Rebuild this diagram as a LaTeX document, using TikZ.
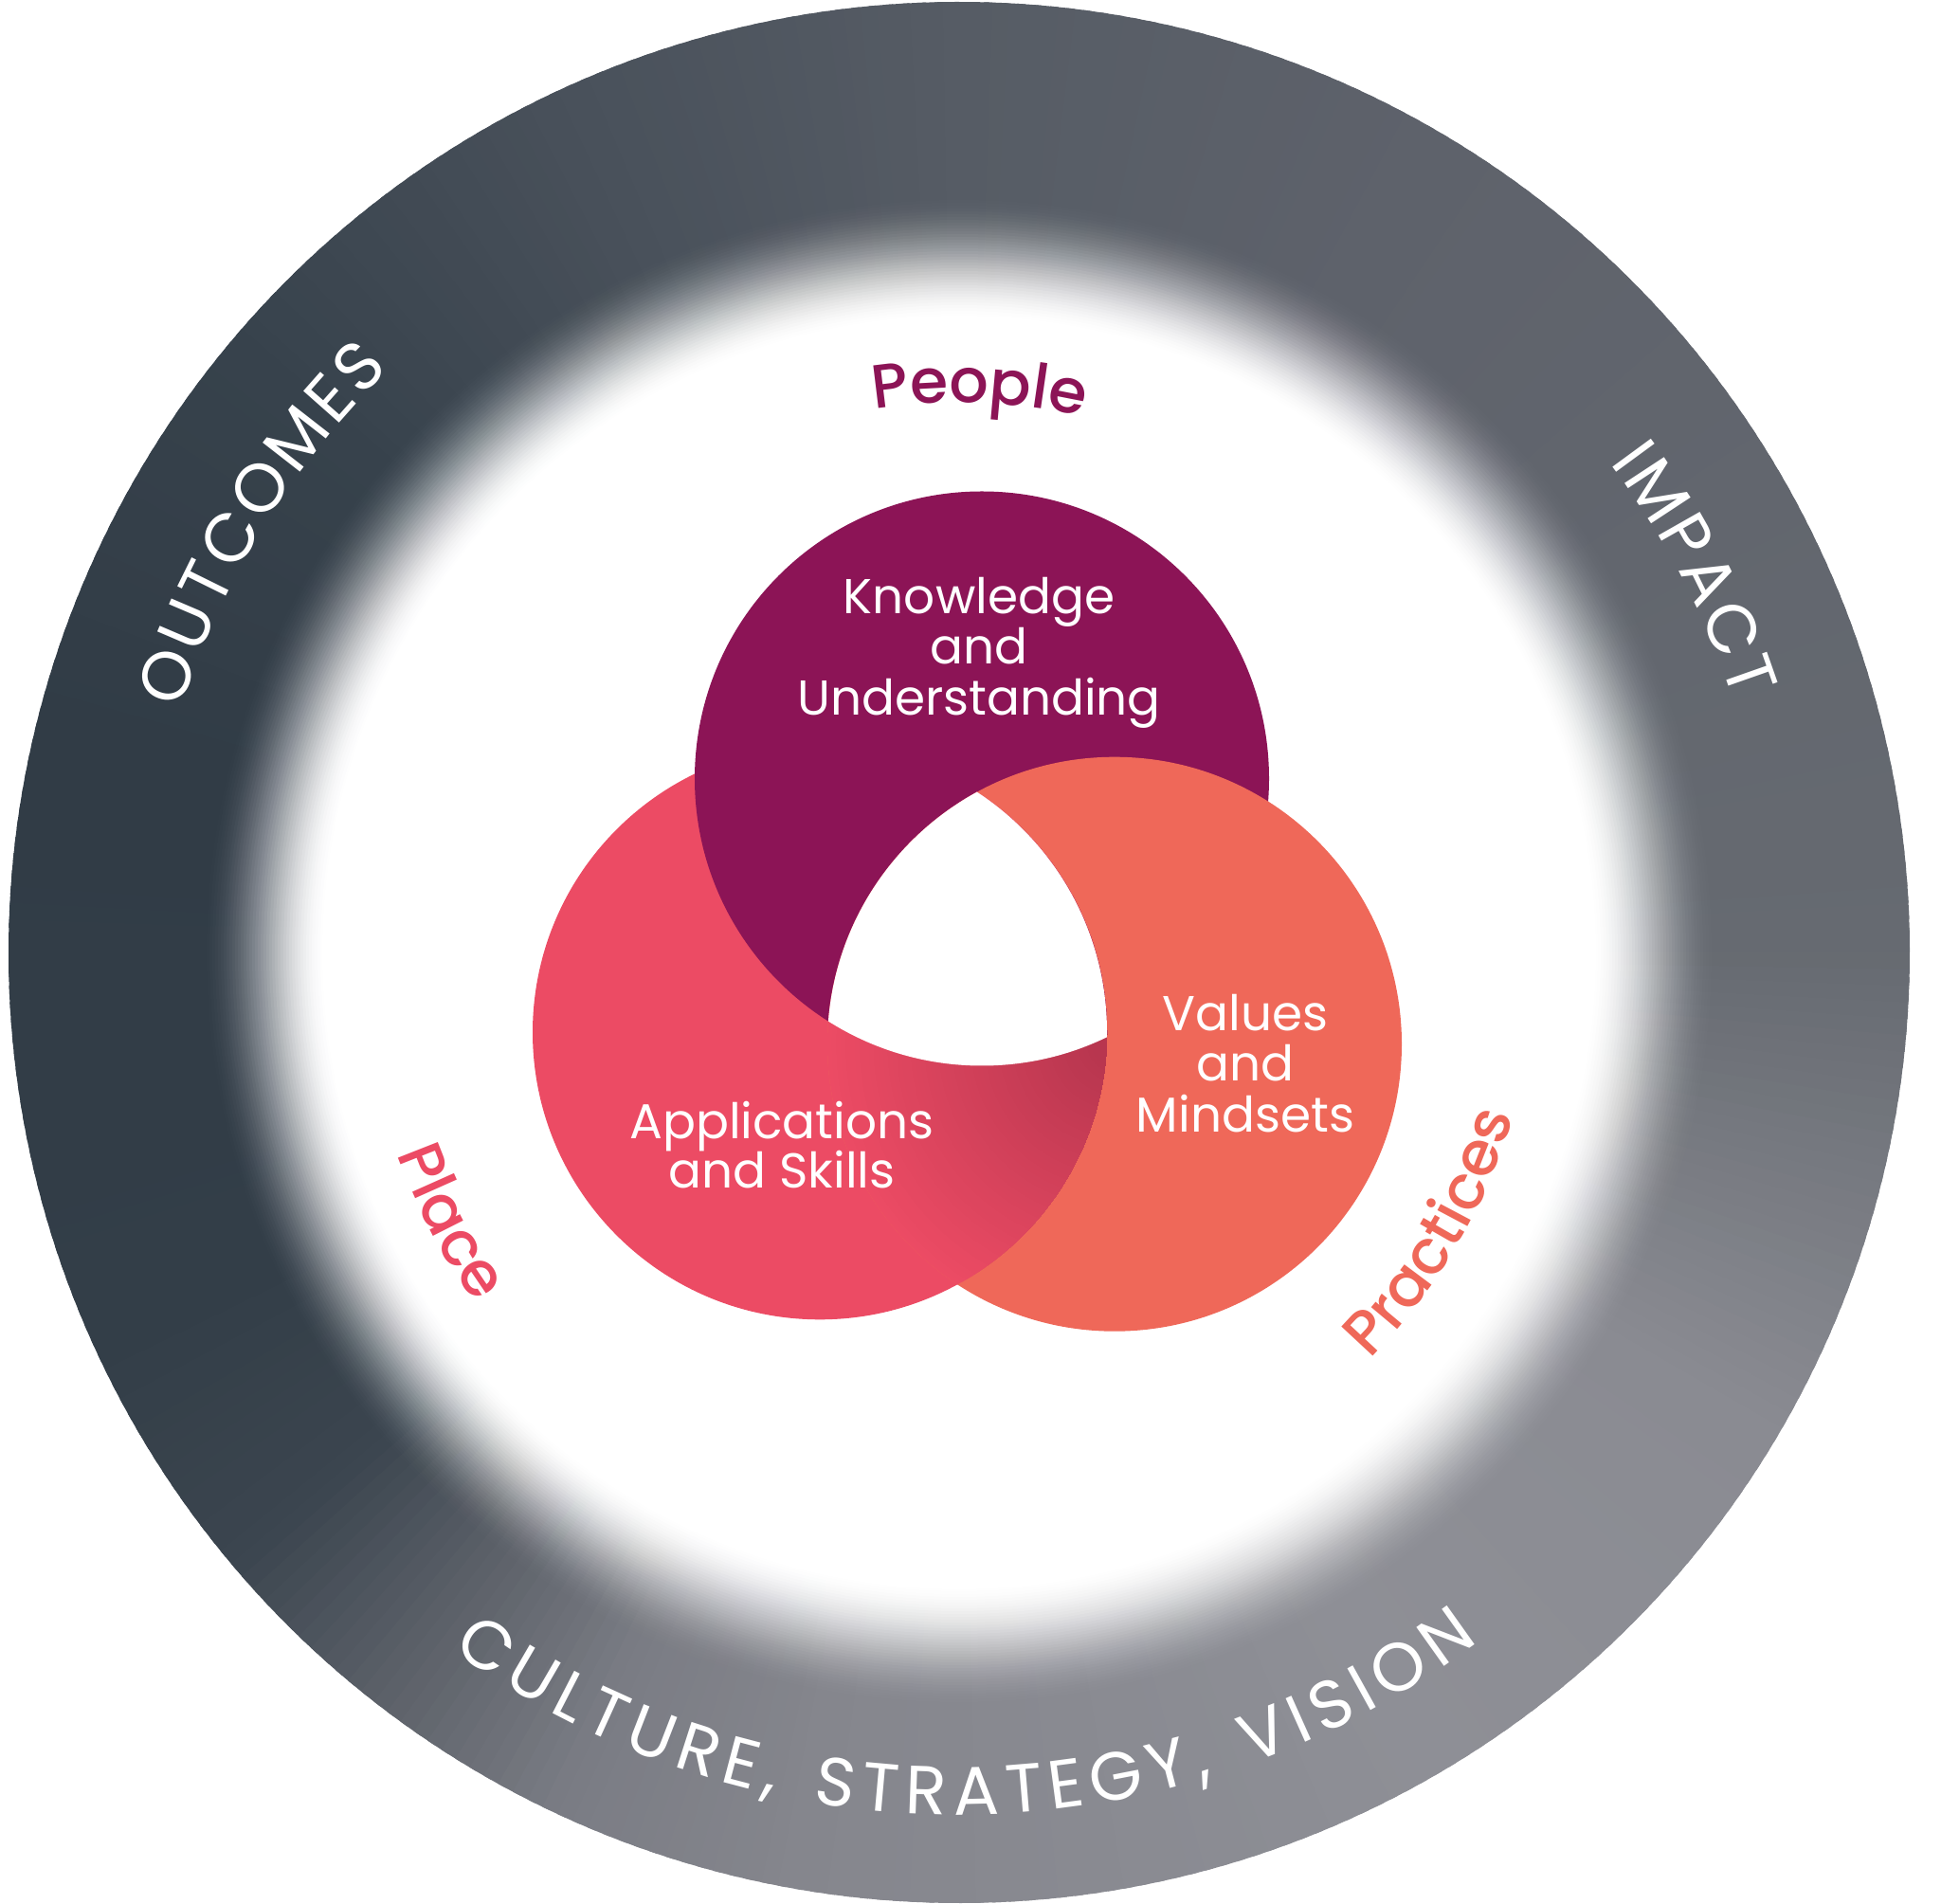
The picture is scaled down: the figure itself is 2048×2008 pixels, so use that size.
\documentclass[tikz,border=0pt]{standalone}
\usepackage{fontspec}
\setmainfont{Poppins}
\newfontfamily\ringfam{Poppins}
\IfFontExistsTF{Poppins Medium}{\newfontfamily\labfam{Poppins Medium}}{\newfontfamily\labfam[FakeBold=0.6]{Poppins}}
\usetikzlibrary{decorations.text}
\definecolor{kpurple}{HTML}{8C1456}
\definecolor{kpink}{HTML}{EC4B64}
\definecolor{korange}{HTML}{EF6859}
\definecolor{kcrimson}{HTML}{B8364F}
\definecolor{rA}{HTML}{8E8F96}
\definecolor{rA2}{HTML}{8A8B92}
\definecolor{rB}{HTML}{666A71}
\definecolor{rC}{HTML}{5E626B}
\definecolor{rD}{HTML}{565C65}
\definecolor{rE}{HTML}{48505A}
\definecolor{rF}{HTML}{37424C}
\definecolor{rG}{HTML}{313C46}
\definecolor{rH}{HTML}{333E48}
\definecolor{rI}{HTML}{3B454F}
\definecolor{rJ}{HTML}{5B6068}
\definecolor{rK}{HTML}{7A7C84}
\definecolor{rL}{HTML}{85868D}
\newcommand\innerfont{\fontsize{14.7pt}{18pt}\selectfont}
\newcommand\labelfont{\fontsize{18.5pt}{22pt}\selectfont\labfam}
\newcommand\ringfont{\fontsize{20.5pt}{24pt}\selectfont\ringfam}
\newcommand\rls{\kern1.1pt}
\newcommand\cls{\kern2.3pt}
\newcommand\rsp{\kern12pt}
\newcommand\conicseg[4]{%
  \pgfmathtruncatemacro\nst{(#2-#1)}%
  \foreach \k in {1,...,\nst}{%
    \pgfmathsetmacro\wa{#1+(\k-1)*(#2-#1)/\nst}%
    \pgfmathsetmacro\wb{#1+\k*(#2-#1)/\nst+0.5}%
    \pgfmathsetmacro\mixp{100*(\k-0.5)/\nst}%
    \fill[#4!\mixp!#3] (C) -- ++(\wa:1003) arc[start angle=\wa, end angle=\wb, radius=1003] -- cycle;
  }}
\begin{document}
\begin{tikzpicture}[x=0.01cm, y=0.01cm,
  inner/.style={text=white, font=\innerfont, inner sep=0pt, anchor=base}]
\useasboundingbox (0,0) rectangle (2048,2008);
\fill[white] (0,0) rectangle (2048,2008);
\coordinate (C) at (1012,1003);
% ring with conic gradient
\conicseg{-60}{-30}{rA}{rA2}
\conicseg{-30}{0}{rA2}{rB}
\conicseg{0}{60}{rB}{rC}
\conicseg{60}{90}{rC}{rD}
\conicseg{90}{116}{rD}{rE}
\conicseg{116}{140}{rE}{rF}
\conicseg{140}{166}{rF}{rG}
\conicseg{166}{205}{rG}{rH}
\conicseg{205}{220}{rH}{rI}
\conicseg{220}{232}{rI}{rJ}
\conicseg{232}{245}{rJ}{rK}
\conicseg{245}{260}{rK}{rL}
\conicseg{260}{300}{rL}{rA}
% soft white centre
\foreach \i in {1,...,44}{%
  \pgfmathsetmacro\xa{(\i-1)/44}%
  \pgfmathsetmacro\xb{\i/44}%
  \pgfmathsetmacro\ca{3*\xa*\xa-2*\xa*\xa*\xa}%
  \pgfmathsetmacro\cb{3*\xb*\xb-2*\xb*\xb*\xb}%
  \pgfmathsetmacro\op{1-(1-\cb)/(1-\ca)}%
  \fill[white, opacity=\op] (C) circle[radius={800-(\i-1)*3}];
}
\fill[white] (C) circle[radius=672];
% three circles
\coordinate (Opur) at (1036,1186.5);
\coordinate (Opink) at (865,918.7);
\coordinate (Oor) at (1176,906.3);
\fill[kpink] (Opink) circle[radius=303];
\fill[kpurple] (Opur) circle[radius=303];
\fill[korange] (Oor) circle[radius=303];
\begin{scope}
  \clip (Opink) circle[radius=303];
  \foreach \j in {0,...,59}{%
    \pgfmathsetmacro\mixc{min(100,100*\j/57)}%
    \fill[kcrimson!\mixc!kpink] (Oor) circle[radius={303-\j*4.9}];
  }
  \clip (Oor) circle[radius=303];
  \fill[white] (Opur) circle[radius=303];
\end{scope}
% circle texts
\node[inner] (k1) at (1033,1360) {Knowledge};
\node[inner] (k2) at (1033,1307) {and};
\node[inner] (k3) at (1033,1253) {Understanding};
\node[inner] (v1) at (1314,920) {Values};
\node[inner] (v2) at (1314,867) {and};
\node[inner] (v3) at (1314,813) {Mindsets};
\node[inner] (a1) at (825,806) {Applications};
\node[inner] (a2) at (825,754) {and Skills};
% labels on arcs
\path[decorate, decoration={text along path, text={|\labelfont|People}, text color=kpurple, text align=center}]
  (C) ++(107.9:580) arc[start angle=107.9, end angle=67.9, radius=580];
\path[decorate, decoration={text along path, text={|\labelfont|Place}, text color=kpink, text align=center}]
  (C) ++(187.9:630) arc[start angle=187.9, end angle=227.9, radius=630];
\path[decorate, decoration={text along path, text={|\labelfont|Practices}, text color=korange, text align=center}]
  (C) ++(304.4:610) arc[start angle=304.4, end angle=354.4, radius=610];
\path[decorate, decoration={text along path, text={|\ringfont|{O\rls}{U\rls}{T\rls}{C\rls}{O\rls}{M\rls}{E\rls}S}, text color=white, text align=center}]
  (C) ++(178.5:860) arc[start angle=178.5, end angle=118.5, radius=860];
\path[decorate, decoration={text along path, text={|\ringfont|{I\rls}{M\rls}{P\rls}{A\rls}{C\rls}T}, text color=white, text align=center}]
  (C) ++(57.5:859) arc[start angle=57.5, end angle=-2.5, radius=859];
\path[decorate, decoration={text along path, text={|\ringfont|{C\cls}{U\cls}{L\cls}{T\cls}{U\cls}{R\cls}{E\cls}{,\rsp}{S\cls}{T\cls}{R\cls}{A\cls}{T\cls}{E\cls}{G\cls}{Y\cls}{,\rsp}{V\cls}{I\cls}{S\cls}{I\cls}{O\cls}N}, text color=white, text align=center}]
  (C) ++(218:910) arc[start angle=218, end angle=323, radius=910];
\end{tikzpicture}
\end{document}
